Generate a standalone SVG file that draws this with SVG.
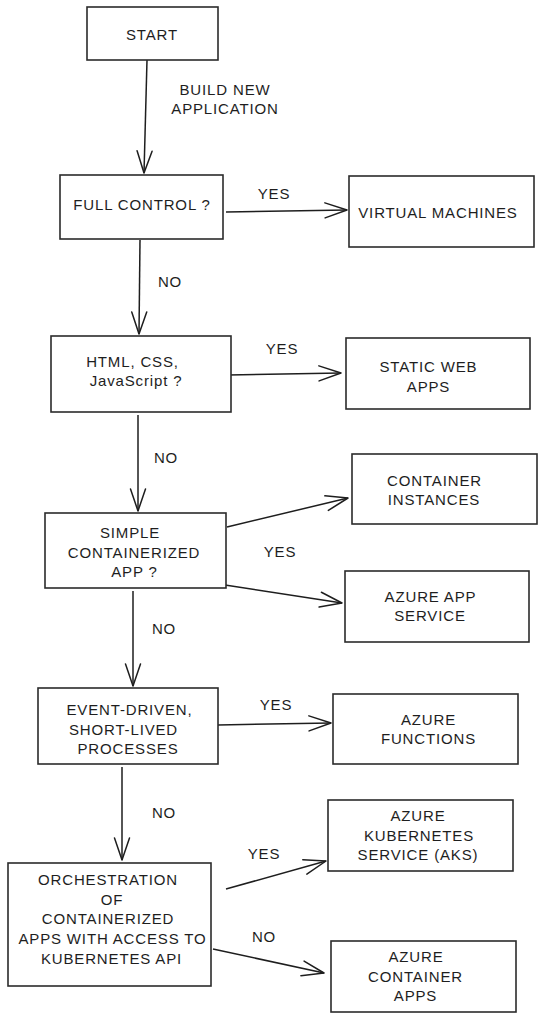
<svg xmlns="http://www.w3.org/2000/svg" width="544" height="1019" viewBox="0 0 544 1019">
<defs>
<style>
.box{fill:#ffffff;stroke:#2b2b2b;stroke-width:1.6}
.t{font-family:"Liberation Sans",Arial,sans-serif;font-size:15px;letter-spacing:0.85px;fill:#1e1e1e;text-anchor:middle}
.c{fill:none;stroke:#1e1e1e;stroke-width:1.5;marker-end:url(#ah)}
</style>
<marker id="ah" viewBox="-24 -10 26 20" refX="0" refY="0" markerWidth="26" markerHeight="20" markerUnits="userSpaceOnUse" orient="auto">
<path d="M -22 -7.5 L 0 0 L -22 7.5" fill="none" stroke="#1e1e1e" stroke-width="1.5" stroke-linecap="round" stroke-linejoin="round"/>
</marker>
</defs>
<rect width="544" height="1019" fill="#ffffff"/>
<g id="connectors">
<path class="c" d="M147 60 L144 173"/>
<path class="c" d="M140 240 L139 334"/>
<path class="c" d="M138 415 L138 511"/>
<path class="c" d="M133 591 L133 686"/>
<path class="c" d="M122 767 L122 860"/>
<path class="c" d="M226 212 L347 210"/>
<path class="c" d="M228 375 L341 373"/>
<path class="c" d="M227 527 L348 498"/>
<path class="c" d="M225 585 L342 603"/>
<path class="c" d="M218 725 L331 723"/>
<path class="c" d="M226 889 L326 861"/>
<path class="c" d="M213 949 L324 973"/>
<text class="t" x="225" y="94.5">BUILD NEW</text>
<text class="t" x="225" y="113.5">APPLICATION</text>
<text class="t" x="274" y="198.5">YES</text>
<text class="t" x="170" y="286.5">NO</text>
<text class="t" x="282" y="353.5">YES</text>
<text class="t" x="166" y="462.5">NO</text>
<text class="t" x="280" y="556.5">YES</text>
<text class="t" x="164" y="633.5">NO</text>
<text class="t" x="276" y="709.5">YES</text>
<text class="t" x="164" y="817.5">NO</text>
<text class="t" x="264" y="858.5">YES</text>
<text class="t" x="264" y="941.5">NO</text>
</g>
<g id="start">
<rect class="box" x="87" y="7" width="131" height="53"/>
<text class="t" x="152" y="39.5">START</text>
</g>
<g id="full-control">
<rect class="box" x="60" y="175" width="163" height="64"/>
<text class="t" x="142" y="209.5">FULL CONTROL ?</text>
</g>
<g id="virtual-machines">
<rect class="box" x="349" y="176" width="185" height="71"/>
<text class="t" x="438" y="217.5">VIRTUAL MACHINES</text>
</g>
<g id="html-css-js">
<rect class="box" x="51" y="336" width="180" height="76"/>
<text class="t" x="132.5" y="366.5">HTML, CSS,</text>
<text class="t" x="136" y="385.5">JavaScript ?</text>
</g>
<g id="static-web-apps">
<rect class="box" x="346" y="338" width="184" height="71"/>
<text class="t" x="428.5" y="371.5">STATIC WEB</text>
<text class="t" x="428.5" y="391.5">APPS</text>
</g>
<g id="simple-containerized">
<rect class="box" x="45" y="513" width="181" height="75"/>
<text class="t" x="130" y="537.5">SIMPLE</text>
<text class="t" x="134" y="557.5">CONTAINERIZED</text>
<text class="t" x="134.5" y="576.5">APP ?</text>
</g>
<g id="container-instances">
<rect class="box" x="352" y="454" width="185" height="70"/>
<text class="t" x="434.5" y="485.5">CONTAINER</text>
<text class="t" x="434" y="504.5">INSTANCES</text>
</g>
<g id="azure-app-service">
<rect class="box" x="345" y="571" width="184" height="71"/>
<text class="t" x="430.5" y="601.5">AZURE APP</text>
<text class="t" x="430" y="620.5">SERVICE</text>
</g>
<g id="event-driven">
<rect class="box" x="38" y="688" width="180" height="76"/>
<text class="t" x="129.5" y="714.5">EVENT-DRIVEN,</text>
<text class="t" x="123.5" y="734.5">SHORT-LIVED</text>
<text class="t" x="128" y="753.5">PROCESSES</text>
</g>
<g id="azure-functions">
<rect class="box" x="333" y="694" width="185" height="70"/>
<text class="t" x="428.5" y="724.5">AZURE</text>
<text class="t" x="428.5" y="743.5">FUNCTIONS</text>
</g>
<g id="orchestration">
<rect class="box" x="8" y="863" width="203" height="123"/>
<text class="t" x="108" y="884.5">ORCHESTRATION</text>
<text class="t" x="112" y="904.5">OF</text>
<text class="t" x="108" y="923.5">CONTAINERIZED</text>
<text class="t" x="112.5" y="943.5">APPS WITH ACCESS TO</text>
<text class="t" x="111.5" y="963.5">KUBERNETES API</text>
</g>
<g id="aks">
<rect class="box" x="328" y="800" width="185" height="71"/>
<text class="t" x="418" y="820.5">AZURE</text>
<text class="t" x="419" y="840.5">KUBERNETES</text>
<text class="t" x="418" y="859.5">SERVICE (AKS)</text>
</g>
<g id="azure-container-apps">
<rect class="box" x="331" y="941" width="185" height="71"/>
<text class="t" x="416" y="961.5">AZURE</text>
<text class="t" x="415.5" y="981.5">CONTAINER</text>
<text class="t" x="415.5" y="1000.5">APPS</text>
</g>
</svg>
